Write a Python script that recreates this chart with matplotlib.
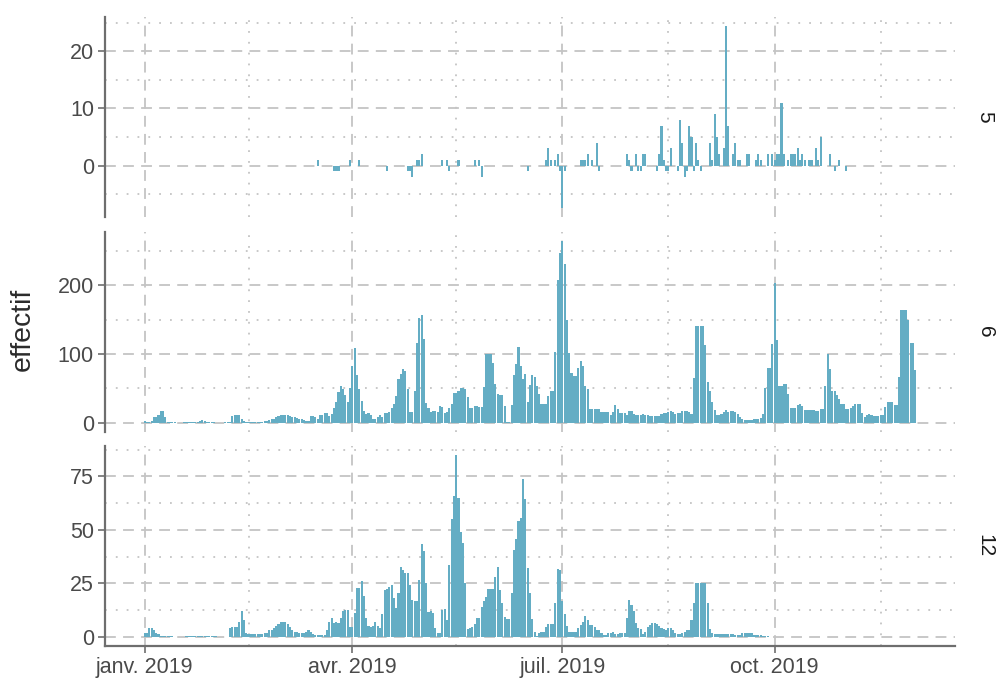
import matplotlib.pyplot as plt
import matplotlib.dates as mdates
import matplotlib.ticker as mticker
import numpy as np
import pandas as pd

plt.rcParams['font.family'] = ['Liberation Sans', 'DejaVu Sans']

debut = pd.Timestamp('2019-01-01')

# facette 5 : jours (depuis le 1er janvier) et effectifs, peu de valeurs
jours5 = [75, 82, 83, 84, 89, 93, 105, 114, 115, 116, 118, 119, 120, 129, 131, 132,
          136, 143, 145, 146, 166, 174, 175, 176, 178, 179, 180, 181, 182, 189, 190,
          191, 192, 194, 196, 197, 209, 210, 211, 213, 214, 215, 216, 217, 222, 223,
          224, 225, 226, 227, 228, 231, 232, 233, 234, 235, 236, 237, 238, 239, 240,
          241, 245, 246, 247, 248, 249, 251, 252, 253, 255, 256, 257, 258, 261, 262,
          265, 266, 267, 270, 272, 273, 274, 275, 276, 277, 279, 280, 281, 282, 283,
          284, 285, 286, 288, 289, 291, 292, 293, 297, 299, 301, 304]
eff5 = [1, -1, -1, -1, 1, 1, -1, -1, -1, -2, 1, 1, 2, 1, 1, -1,
        1, 1, 1, -2, -1, 1, 3, 1, 1, 2, -1, -7.4, -1, 1, 1,
        1, 2, 1, 4, -1, 2, 1, -1, 2, -1, -1, 2, 2, -1, 2,
        7, 1, -1, -1, 3, -1, 8, 4, -2, -1, 7, 5, -1, 4, 1,
        -1, 4, 1, 9, 5, 2, 3, 24.4, 7, 2, 4, 1, 1, 2, 2,
        1, 2, 1, 2, 2, 1, 2, 2, 11, 2, 1, 2, 2, 2, 3,
        1, 2, 1, 1, 1, 3, 1, 5, 2, -1, 1, -1]

# facette 6 : un effectif par jour a partir du 1er janvier
eff6 = [3, 2, 2, 3, 8, 9, 12, 18, 18, 9, 2, 2, 2, 2,
        0, 0, 0,
        1, 1, 1, 1, 1, 1, 1,
        3, 4, 3,
        1, 1, 1, 1,
        0, 0, 0, 0,
        2, 2, 2,
        10, 12, 12, 11, 5, 3,
        1, 1, 1, 1, 1, 1, 1, 1,
        3, 3, 4, 5, 6, 8, 10, 12, 12, 12, 11, 10, 9, 8, 7, 6, 5, 4, 3, 3,
        10, 10, 8, 6, 12, 12, 15, 14, 10, 13, 21, 31, 45,
        54, 49, 40, 30, 50, 82, 109, 69, 49, 32,
        17, 13, 14, 11, 5, 5, 9, 11, 8, 14,
        15, 16, 22, 28, 39, 64, 71, 78, 75, 49,
        16, 16, 47, 116, 153, 157, 122, 29, 22, 16,
        18, 17, 16, 25, 23, 14, 16, 22, 28, 43,
        44, 46, 50, 50, 49, 38, 21, 22, 25, 24,
        23, 23, 52, 100, 100, 100, 87, 57, 42, 41,
        40, 25, 2, 1, 26, 70, 85, 110, 82, 64,
        71, 31, 55, 70, 66, 54, 42, 27, 27, 27,
        39, 46, 46, 103, 207,
        246, 264, 231, 150, 101, 72, 68, 68, 80, 90, 83, 53, 49, 20,
        20, 20, 20, 20, 16, 16, 16, 16,
        12, 16, 26, 20, 14, 14, 14, 11, 17, 17, 13,
        12, 11, 12, 13, 12, 11, 10, 10, 10, 10, 10,
        13, 15, 15, 16, 17, 16, 13, 15, 15, 17, 17, 18, 16, 13,
        65, 140, 140, 140, 140, 113, 60, 47, 31, 19,
        11, 11, 13, 16, 19, 16, 17, 17, 16,
        13, 9, 5, 4, 4, 4, 4, 5, 5, 6, 7, 13,
        51, 80, 80, 115, 203, 121, 53, 54, 57, 57, 42,
        21, 22, 22, 26, 28, 25, 19, 19, 19, 19, 19, 17, 17, 20, 20,
        54, 100, 79, 47, 46, 41, 35, 28, 28, 20, 20, 21, 24, 28, 28, 28,
        15, 8, 11, 13, 11, 10, 10, 10, 11, 12, 23, 31, 31, 30, 26, 26,
        67, 164, 164, 164, 149, 116, 116, 77]

# facette 12 : un effectif par jour a partir du 1er janvier
eff12 = [2, 2, 4, 4, 3, 2, 1.5,
         0.4, 0.4, 0.4, 0.4, 0.4, 0.4,
         0, 0, 0, 0, 0,
         0.3, 0.3, 0.3, 0.3, 0.3, 0.3, 0.3, 0.3, 0.3, 0.3, 0.3, 0.3, 0.3, 0.3,
         0, 0, 0, 0, 0,
         4, 4.5, 4.5, 4.5, 7, 12, 8, 2,
         1.5, 1.5, 1.5, 1.5, 1.5, 1.5, 1.5,
         2, 2, 3, 3, 4, 5, 6, 7, 7, 7, 6, 4.5, 3,
         2.5, 2.5, 2, 2, 2, 2.5, 3, 2.5, 1.5, 1, 1, 1, 1, 1,
         3, 7, 9, 6.5, 7, 6.5, 9, 12, 12.6, 12.6, 4.5, 4.5,
         11, 23, 23, 26, 19, 9, 5, 4.5, 5, 7,
         5, 4, 10.6, 22, 22.4, 23.5, 24.3, 18, 13.4, 20.7,
         32.5, 31.3, 30, 30, 24.3, 17.3, 17, 17, 26.6, 43.3,
         40, 25, 11.8, 12.3, 11, 4, 1.7, 2, 12.6, 13,
         8, 33.5, 55, 66, 85, 64.8, 49, 43.8, 25, 3.7,
         4, 4.4, 6, 9, 9, 14, 16.8, 18.8, 22.3, 22.3,
         22.3, 27.9, 32.6, 22, 16, 9.5, 8.4, 8.4, 20.4, 40.6,
         46, 54, 55.5, 73.7, 64.3, 32.4, 20.4, 8.4, 2.5, 0.5,
         2, 2.5, 2.5, 4.5, 6, 6, 6, 15.7, 31.6, 31.3,
         16.8, 10.7, 5, 2.5, 2.5, 2.5, 2.5, 4, 5.5, 7,
         10, 8, 5.6, 5.6, 4.5, 3.3, 3.3, 2, 1, 1,
         2, 2, 2.3, 1.4, 1.4, 2, 2, 2, 8.7, 17.3,
         15, 12, 6.7, 4, 3.6, 1.2, 2.5, 4.8, 5.6, 6.4,
         6.4, 6, 5, 4, 3.6, 3, 4, 4, 3, 1.7,
         1.2, 1.2, 2, 2.2, 3.3, 3.3, 8, 15.7, 25, 25,
         25, 25, 25, 15.7, 3.6, 2, 1.2, 1.2, 1.2, 1.2,
         1.4, 1.4, 1.4, 1.4, 1.4, 0.8, 0.8, 0.8, 1.7, 1.7,
         1.7, 1.7, 1.7, 0.8, 0.8, 0.8, 0.8, 0.3, 0.3, 0.3]

facettes = ['5', '6', '12']
jours = [jours5, list(range(len(eff6))), list(range(len(eff12)))]
effectifs = [eff5, eff6, eff12]
pas_majeur = [10, 100, 25]

mois_fr = ['janv.', 'févr.', 'mars', 'avr.', 'mai', 'juin',
           'juil.', 'août', 'sept.', 'oct.', 'nov.', 'déc.']

W, H = 996, 682
fig = plt.figure(figsize=(W / 100, H / 100), dpi=100)

# panneaux en pixels (haut, bas)
panneaux = [(17, 217), (232, 432), (446, 646)]
gauche, droite = 105, 955

bleu = '#64adc4'
gris_grille = '#c4c4c4'

tous_jours = np.concatenate([np.asarray(j) for j in jours])
jmin, jmax = tous_jours.min() - 0.45, tous_jours.max() + 0.45
ex = 0.05 * (jmax - jmin)
x0 = mdates.date2num(debut) + jmin - ex
x1 = mdates.date2num(debut) + jmax + ex

milieux = [mdates.date2num(pd.Timestamp(d)) for d in
           ['2019-02-15', '2019-05-16', '2019-08-16', '2019-11-16']]

for i, (nom, j, v, pas) in enumerate(zip(facettes, jours, effectifs, pas_majeur)):
    haut, bas = panneaux[i]
    ax = fig.add_axes([gauche / W, 1 - bas / H, (droite - gauche) / W, (bas - haut) / H])
    dates = debut + pd.to_timedelta(j, unit='D')
    ax.bar(dates, v, width=0.9, color=bleu, linewidth=0, zorder=2)

    vmin, vmax = min(0, min(v)), max(v)
    ey = 0.05 * (vmax - vmin)
    ax.set_ylim(vmin - ey, vmax + ey)
    ax.set_xlim(x0, x1)

    ax.yaxis.set_major_locator(mticker.MultipleLocator(pas))
    ax.yaxis.set_minor_locator(mticker.MultipleLocator(pas / 2))
    ax.xaxis.set_major_locator(mdates.MonthLocator(bymonth=[1, 4, 7, 10]))
    ax.xaxis.set_minor_locator(mticker.FixedLocator(milieux))
    ax.xaxis.set_major_formatter(mticker.FuncFormatter(
        lambda x, p: f"{mois_fr[mdates.num2date(x).month - 1]} {mdates.num2date(x).year}"))

    ax.set_axisbelow(True)
    ax.grid(which='major', color=gris_grille, lw=1.3, ls=(0, (6, 4)))
    ax.grid(which='minor', color=gris_grille, lw=1.3, ls=(0, (1, 5)))

    for s in ['top', 'right']:
        ax.spines[s].set_visible(False)
    ax.spines['left'].set_color('#6e6e6e')
    ax.spines['left'].set_linewidth(1.6)
    if i < 2:
        ax.spines['bottom'].set_visible(False)
        ax.tick_params(axis='x', which='both', length=0, labelbottom=False)
    else:
        ax.spines['bottom'].set_color('#6e6e6e')
        ax.spines['bottom'].set_linewidth(1.6)
        ax.tick_params(axis='x', which='major', length=5, width=1.2, color='#6e6e6e',
                       labelsize=15.5, labelcolor='#4a4a4a', pad=3)
        ax.tick_params(axis='x', which='minor', length=0)
    ax.tick_params(axis='y', which='major', length=5, width=1.2, color='#6e6e6e',
                   labelsize=15.5, labelcolor='#4a4a4a', pad=3)
    ax.tick_params(axis='y', which='minor', length=0)

    ax.text((985 - gauche) / (droite - gauche), 0.5, nom, transform=ax.transAxes,
            rotation=-90, ha='center', va='center', fontsize=15, color='#1a1a1a')

fig.text(23 / W, 1 - 329 / H, 'effectif', rotation=90, ha='center', va='center',
         fontsize=20.5, color='#2b2b2b')

fig.savefig('out.png', dpi=100, facecolor='white')
